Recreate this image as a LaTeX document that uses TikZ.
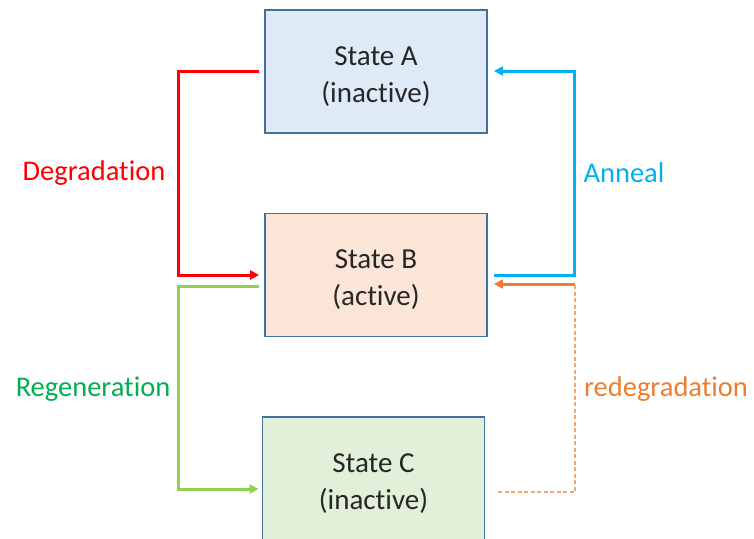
\documentclass[tikz,border=0pt]{standalone}
\usepackage{fontspec}
\setmainfont{Carlito}[RawFeature=-liga]
\usetikzlibrary{arrows.meta}
\definecolor{boxborder}{HTML}{41719C}
\definecolor{fillA}{HTML}{DEEBF7}
\definecolor{fillB}{HTML}{FBE5D6}
\definecolor{fillC}{HTML}{E2F0D9}
\definecolor{cred}{HTML}{FF0000}
\definecolor{cgreenline}{HTML}{92D050}
\definecolor{cgreentext}{HTML}{00B050}
\definecolor{cblue}{HTML}{00B0F0}
\definecolor{corange}{HTML}{ED7D31}
\tikzset{
  statebox/.style={draw=boxborder, line width=1.8pt, minimum width=222pt, minimum height=123pt, inner sep=0pt},
  statetext/.style={align=center, font=\fontsize{29}{37}\selectfont, text=black!85, inner sep=0pt},
  conn/.style={line width=3pt},
  tip/.style={-{Triangle[length=9pt,width=9pt]}},
  lbl/.style={font=\fontsize{28.5}{34}\selectfont, inner sep=0pt}
}
\begin{document}
\begin{tikzpicture}[x=1pt,y=-1pt]
\useasboundingbox (0,0) rectangle (754,538);
\clip (0,0) rectangle (754,538);
\node[statebox, fill=fillA] (A) at (376,71.5) {};
\node[statebox, fill=fillB] (B) at (376,275) {};
\node[statebox, fill=fillC] (C) at (373.5,478.5) {};
\node[statetext] (tA) at ([yshift=-5pt]A.center) {State A\\(inactive)};
\node[statetext] (tB) at ([yshift=-5pt]B.center) {State B\\(active)};
\node[statetext] (tC) at ([yshift=-5pt]C.center) {State C\\(inactive)};
% red: Degradation A -> B
\draw[conn, cred, tip] ([xshift=-5pt,yshift=0.5pt]A.west) -- ++(-81,0) |- ([xshift=-5pt]B.west);
% green: Regeneration B -> C
\draw[conn, cgreenline, tip] ([xshift=-5pt,yshift=-11pt]B.west) -- ++(-81,0) |- ([xshift=-3pt,yshift=-10.5pt]C.west);
% blue: Anneal B -> A
\draw[conn, cblue, tip] ([xshift=6pt]B.east) -- ++(81,0) |- ([xshift=6pt,yshift=0.5pt]A.east);
% orange: redegradation C -> B
\coordinate (ocorner) at ([xshift=87pt,yshift=-9pt]B.east);
\draw[conn, corange, tip] (ocorner) -- ([xshift=6pt,yshift=-9pt]B.east);
\draw[corange!70, line width=1.3pt, dash pattern=on 4pt off 2.5pt] ([xshift=13pt,yshift=-13.5pt]C.east) -| (ocorner);
% labels
\node[lbl, text=cred] (ldeg) at (94,173) {Degradation};
\node[lbl, text=cgreentext] (lreg) at (93,389) {Regeneration};
\node[lbl, text=cblue] (lann) at (624,173) {Anneal};
\node[lbl, text=corange] (lredeg) at (666,389) {redegradation};
\end{tikzpicture}
\end{document}
